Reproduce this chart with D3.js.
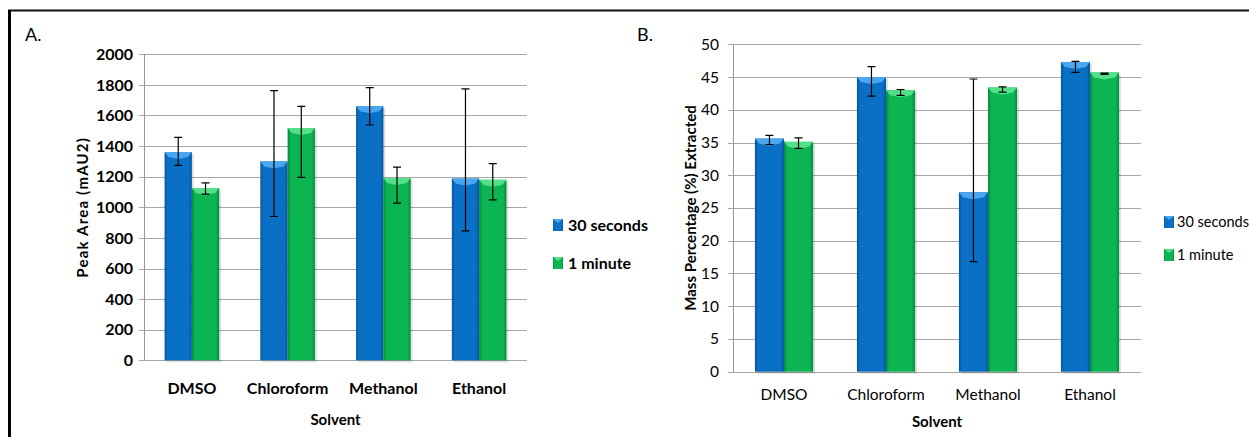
<!DOCTYPE html>
<meta charset="utf-8">
<style>
    body { margin: 0; background: #fff; }
    svg { display: block; font-family: Lato, "Open Sans", sans-serif; }
    .grid line { stroke: #a6a6a6; stroke-width: 1px; shape-rendering: crispEdges; }
    .err { stroke: #000; stroke-width: 1.2px; fill: none; }
</style>
<svg width="1249" height="437"></svg>
<script src="https://cdnjs.cloudflare.com/ajax/libs/d3/7.8.5/d3.min.js"></script>
<script>

    // solvents on the x axis (both panels)
    var solvents = ["DMSO", "Chloroform", "Methanol", "Ethanol"];
    var seriesNames = ["30 seconds", "1 minute"];

    // panel A - peak area (mAU2)
    var peakTicks = [0, 200, 400, 600, 800, 1000, 1200, 1400, 1600, 1800, 2000];
    var peak30s = [1361, 1300, 1660, 1188];
    var peak30sHigh = [1457, 1762, 1782, 1774];
    var peak30sLow = [1274, 940, 1538, 846];
    var peak1m = [1126, 1518, 1191, 1180];
    var peak1mHigh = [1160, 1660, 1263, 1285];
    var peak1mLow = [1086, 1195, 1027, 1049];

    // panel B - mass percentage extracted
    var massTicks = [0, 5, 10, 15, 20, 25, 30, 35, 40, 45, 50];
    var mass30s = [35.6, 45.0, 27.4, 47.3];
    var mass30sHigh = [36.1, 46.6, 44.7, 47.4];
    var mass30sLow = [34.7, 42.1, 16.8, 45.7];
    var mass1m = [35.1, 43.0, 43.4, 45.7];
    var mass1mHigh = [35.7, 43.1, 43.5, 45.6];
    var mass1mLow = [34.1, 42.2, 42.7, 45.4];

    var colors = {
        "30 seconds": {main: "#0a70c6", edge: "#06569e", light: "#4aa6ee"},
        "1 minute": {main: "#0bb552", edge: "#07893c", light: "#52e08a"}
    };

    var svg = d3.select("svg");
    var defs = svg.append("defs");

    seriesNames.forEach(function(s, i) {
        var grad = defs.append("linearGradient")
            .attr("id", "grad" + i)
            .attr("x1", "0%").attr("x2", "100%").attr("y1", "0%").attr("y2", "0%");
        grad.append("stop").attr("offset", "0%").attr("stop-color", colors[s].edge);
        grad.append("stop").attr("offset", "12%").attr("stop-color", colors[s].main);
        grad.append("stop").attr("offset", "88%").attr("stop-color", colors[s].main);
        grad.append("stop").attr("offset", "100%").attr("stop-color", colors[s].edge);
    });

    // outer frame
    svg.append("line").attr("x1", 8).attr("x2", 1249).attr("y1", 10.5).attr("y2", 10.5)
        .attr("stroke", "#111").attr("stroke-width", 2);
    svg.append("line").attr("x1", 9.5).attr("x2", 9.5).attr("y1", 10).attr("y2", 437)
        .attr("stroke", "#000").attr("stroke-width", 3);

    function drawPanel(cfg) {
        var x = d3.scaleBand()
            .domain(solvents)
            .range([cfg.left, cfg.right])
            .paddingInner(0.43)
            .paddingOuter(0.215);

        var x1 = d3.scaleBand()
            .domain(seriesNames)
            .range([0, x.bandwidth()]);

        var y = d3.scaleLinear()
            .domain([0, cfg.max])
            .range([cfg.bottom, cfg.top]);

        var g = svg.append("g");

        // gridlines
        g.append("g")
            .attr("class", "grid")
            .selectAll("line")
            .data(cfg.ticks)
            .enter().append("line")
            .attr("x1", cfg.left - 5)
            .attr("x2", cfg.right)
            .attr("y1", function(d) { return Math.round(y(d)) + 0.5; })
            .attr("y2", function(d) { return Math.round(y(d)) + 0.5; });

        g.append("line")
            .attr("x1", cfg.left + 0.5).attr("x2", cfg.left + 0.5)
            .attr("y1", cfg.top).attr("y2", cfg.bottom)
            .attr("stroke", "#999").attr("shape-rendering", "crispEdges");

        var yAxis = g.append("g")
            .attr("transform", "translate(" + cfg.labelX + ",0)")
            .call(d3.axisLeft(y).tickValues(cfg.ticks).tickFormat(d3.format("d")).tickSize(0).tickPadding(0));
        yAxis.select(".domain").remove();
        yAxis.selectAll("text")
            .style("font-family", "Lato")
            .style("font-size", cfg.tickSize)
            .style("font-weight", cfg.tickWeight)
            .attr("fill", "#000");

        // bars
        var rows = solvents.map(function(s, i) {
            return cfg.series.map(function(ser, k) {
                return {cat: s, name: seriesNames[k], k: k, value: ser.values[i],
                        hi: ser.high[i], lo: ser.low[i]};
            });
        });

        var groups = g.selectAll(".solvent")
            .data(rows)
            .enter().append("g")
            .attr("class", "solvent")
            .attr("transform", function(d) { return "translate(" + x(d[0].cat) + ",0)"; });

        var bars = groups.selectAll(".bar")
            .data(function(d) { return d; })
            .enter().append("g")
            .attr("class", "bar");

        // soft shadow
        bars.append("rect")
            .attr("x", function(d) { return x1(d.name) + 2; })
            .attr("y", function(d) { return y(d.value) + 2; })
            .attr("width", x1.bandwidth())
            .attr("height", function(d) { return cfg.bottom - y(d.value); })
            .attr("fill", "#000")
            .attr("opacity", 0.12);

        bars.append("rect")
            .attr("x", function(d) { return x1(d.name); })
            .attr("y", function(d) { return y(d.value); })
            .attr("width", x1.bandwidth())
            .attr("height", function(d) { return cfg.bottom - y(d.value); })
            .attr("fill", function(d) { return "url(#grad" + d.k + ")"; });

        // bevelled top
        bars.append("polygon")
            .attr("points", function(d) {
                var x0 = x1(d.name), w = x1.bandwidth(), t = y(d.value);
                return [[x0, t], [x0 + w, t], [x0 + w - 4, t + 5], [x0 + w / 2, t + 7], [x0 + 4, t + 5]].join(" ");
            })
            .attr("fill", function(d) { return colors[d.name].light; });

        // error bars
        var cap = cfg.cap;
        bars.append("path")
            .attr("class", "err")
            .attr("d", function(d) {
                var cx = x1(d.name) + x1.bandwidth() / 2;
                var yh = y(d.hi), yl = y(d.lo);
                return "M" + cx + "," + yh + "V" + yl +
                    "M" + (cx - cap) + "," + yh + "H" + (cx + cap) +
                    "M" + (cx - cap) + "," + yl + "H" + (cx + cap);
            });

        // x labels
        g.selectAll(".xlab")
            .data(solvents)
            .enter().append("text")
            .attr("x", function(d) { return x(d) + x.bandwidth() / 2; })
            .attr("y", cfg.xLabelY)
            .attr("text-anchor", "middle")
            .style("font-size", cfg.tickSize)
            .style("font-weight", cfg.tickWeight)
            .text(function(d) { return d; });

        g.append("text")
            .attr("x", (cfg.left + cfg.right) / 2)
            .attr("y", cfg.xTitleY)
            .attr("text-anchor", "middle")
            .style("font-size", "15px")
            .style("font-weight", "bold")
            .text("Solvent");

        g.append("text")
            .attr("transform", "translate(" + cfg.yTitleX + "," + (cfg.top + cfg.bottom) / 2 + ") rotate(-90)")
            .attr("text-anchor", "middle")
            .style("font-size", "15px")
            .style("font-weight", "bold")
            .style("letter-spacing", cfg.yTitleSpacing)
            .text(cfg.yTitle);

        g.append("text")
            .attr("x", cfg.letterX)
            .attr("y", 41)
            .style("font-size", "18px")
            .text(cfg.letter);

        // legend
        var legend = g.selectAll(".legend")
            .data(seriesNames)
            .enter().append("g")
            .attr("class", "legend")
            .attr("transform", function(d, i) { return "translate(" + cfg.legendX + "," + (cfg.legendY + i * cfg.legendGap) + ")"; });

        legend.append("rect")
            .attr("x", 0).attr("y", -6)
            .attr("width", 10).attr("height", 12)
            .attr("fill", function(d, i) { return "url(#grad" + i + ")"; });
        legend.append("polygon")
            .attr("points", "0,-6 10,-6 5,-2")
            .attr("fill", function(d) { return colors[d].light; });

        legend.append("text")
            .attr("x", cfg.legendText)
            .attr("y", 0)
            .attr("dy", "0.35em")
            .style("font-size", cfg.legendSize)
            .style("font-weight", cfg.tickWeight)
            .text(function(d) { return d; });
    }

    drawPanel({
        left: 144, right: 527, top: 54.3, bottom: 360.3, max: 2000,
        ticks: peakTicks, labelX: 133, tickSize: "16px", tickWeight: "bold",
        series: [{values: peak30s, high: peak30sHigh, low: peak30sLow},
                 {values: peak1m, high: peak1mHigh, low: peak1mLow}],
        cap: 4, xLabelY: 394, xTitleY: 425,
        yTitle: "Peak Area (mAU2)", yTitleX: 88, yTitleSpacing: "1.2px",
        letter: "A.", letterX: 25,
        legendX: 553, legendY: 225, legendGap: 38, legendText: 15, legendSize: "16px"
    });

    drawPanel({
        left: 733, right: 1141, top: 44.3, bottom: 371.7, max: 50,
        ticks: massTicks, labelX: 719, tickSize: "15.5px", tickWeight: "normal",
        series: [{values: mass30s, high: mass30sHigh, low: mass30sLow},
                 {values: mass1m, high: mass1mHigh, low: mass1mLow}],
        cap: 4, xLabelY: 400, xTitleY: 427,
        yTitle: "Mass Percentage (%) Extracted", yTitleX: 696, yTitleSpacing: "0px",
        letter: "B.", letterX: 637,
        legendX: 1164, legendY: 222, legendGap: 33, legendText: 13, legendSize: "14.5px"
    });

</script>
